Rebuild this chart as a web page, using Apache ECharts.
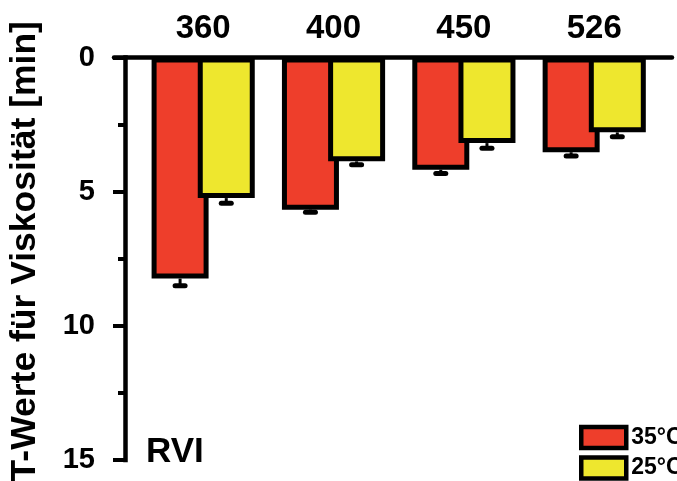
<!DOCTYPE html>
<html>
<head>
<meta charset="utf-8">
<script src="https://cdn.jsdelivr.net/npm/echarts@6/dist/echarts.min.js"></script>
<style>html,body{margin:0;padding:0;background:#fff;}#c{width:677px;height:481px;}</style>
</head>
<body>
<div id="c"></div>
<script>
var categories = ['360', '400', '450', '526'];
var seriesNames = ['35°C', '25°C'];
var values35 = [8.24, 5.67, 4.18, 3.53];
var values25 = [5.24, 3.87, 3.19, 2.79];
var err35 = [0.27, 0.10, 0.14, 0.14];
var err25 = [0.19, 0.13, 0.19, 0.16];
var yTicks = [0, 5, 10, 15];

var FONT = "'Liberation Sans', Arial, sans-serif";
var RED = '#ee3e2b', YEL = '#eee72e';
var BAR_W = 57, GAP = -0.19;
var off = (BAR_W + BAR_W * GAP) / 2;

function errData(vals, errs) {
  return vals.map(function (v, i) { return [i, v, errs[i]]; });
}
function errRender(sign) {
  return function (params, api) {
    var c = api.coord([api.value(0), api.value(1)]);
    var e = api.coord([api.value(0), api.value(1) + api.value(2)]);
    var x = c[0] + sign * off;
    return {
      type: 'group',
      children: [
        { type: 'line', shape: { x1: x, y1: c[1], x2: x, y2: e[1] }, style: { stroke: '#000', lineWidth: 3 } },
        { type: 'line', shape: { x1: x - 5, y1: e[1], x2: x + 5, y2: e[1] }, style: { stroke: '#000', lineWidth: 5, lineCap: 'round' } }
      ]
    };
  };
}

var chart = echarts.init(document.getElementById('c'), null, { renderer: 'canvas' });
var option = {
  animation: false,
  backgroundColor: '#fff',
  grid: { left: 138, right: 17.6, top: 57.5, bottom: 21, containLabel: false, outerBoundsMode: 'none' },
  xAxis: {
    type: 'category',
    position: 'top',
    data: categories,
    axisLine: { show: false },
    axisTick: { show: false },
    axisLabel: { color: '#000', fontFamily: FONT, fontWeight: 'bold', fontSize: 33, margin: 12 }
  },
  yAxis: {
    type: 'value',
    inverse: true,
    min: yTicks[0],
    max: yTicks[yTicks.length - 1],
    interval: 5,
    offset: 13,
    name: 'T-Werte für Viskosität [min]',
    nameLocation: 'middle',
    nameRotate: 90,
    nameGap: 82,
    nameTextStyle: { color: '#000', fontFamily: FONT, fontWeight: 'bold', fontSize: 35.5, padding: [0, 0, 0, 15] },
    axisLine: { show: true, lineStyle: { color: '#000', width: 4.5, cap: 'square' } },
    axisTick: { show: true, length: 12, lineStyle: { color: '#000', width: 4 } },
    minorTick: { show: true, splitNumber: 2, length: 7, lineStyle: { color: '#000', width: 4 } },
    splitLine: { show: false },
    axisLabel: { color: '#000', fontFamily: FONT, fontWeight: 'bold', fontSize: 29, margin: 30 }
  },
  legend: {
    orient: 'vertical',
    left: 579,
    top: 424.7,
    padding: 0,
    width: 200,
    height: 100,
    itemWidth: 45,
    itemHeight: 21,
    itemGap: 5,
    itemTextGap: 4,
    icon: 'rect',
    data: seriesNames,
    itemStyle: { borderColor: '#000', borderWidth: 4.5 },
    textStyle: { color: '#000', fontFamily: FONT, fontWeight: 'bold', fontSize: 23, lineHeight: 21 }
  },
  title: {
    text: 'RVI',
    left: 146,
    top: 435,
    padding: 0,
    textStyle: { color: '#000', fontFamily: FONT, fontWeight: 'bold', fontSize: 35 }
  },
  series: [
    { type: 'custom', z: 1, data: errData(values35, err35), renderItem: errRender(-1), silent: true },
    { type: 'custom', z: 1, data: errData(values25, err25), renderItem: errRender(1), silent: true },
    {
      name: seriesNames[0], type: 'bar', z: 2, data: values35, barWidth: BAR_W, barGap: (GAP * 100) + '%',
      itemStyle: { color: RED, borderColor: '#000', borderWidth: 5 }
    },
    {
      name: seriesNames[1], type: 'bar', z: 2, data: values25, barWidth: BAR_W, barGap: (GAP * 100) + '%',
      itemStyle: { color: YEL, borderColor: '#000', borderWidth: 5 }
    }
  ]
};
chart.setOption(option);
var y0 = chart.convertToPixel({ yAxisIndex: 0 }, yTicks[0]);
chart.setOption({
  graphic: [{
    type: 'line', z: 10,
    shape: { x1: 114, y1: y0, x2: 672, y2: y0 },
    style: { stroke: '#000', lineWidth: 4.5, lineCap: 'round' }
  }]
});
</script>
</body>
</html>
